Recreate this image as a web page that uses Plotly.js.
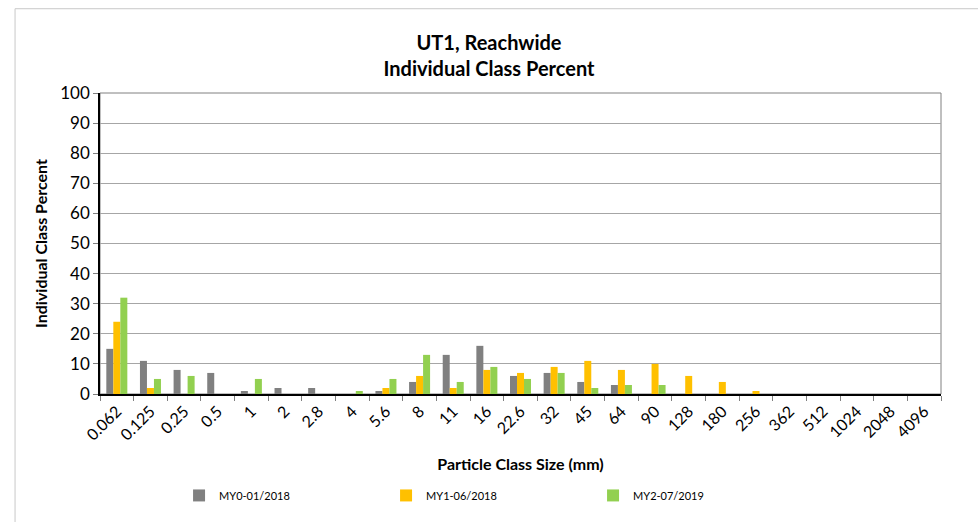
<!DOCTYPE html>
<html>
<head>
<meta charset="utf-8">
<script src="https://cdn.plot.ly/plotly-3.0.1.min.js"></script>
<style>html,body{margin:0;padding:0;background:#fff;}#chart{width:978px;height:522px;}</style>
</head>
<body>
<div id="chart"></div>
<script>
const categories = ["0.062","0.125","0.25","0.5","1","2","2.8","4","5.6","8","11","16","22.6","32","45","64","90","128","180","256","362","512","1024","2048","4096"];
const my0 = [15,11,8,7,1,2,2,0,1,4,13,16,6,7,4,3,0,0,0,0,0,0,0,0,0];
const my1 = [24,2,0,0,0,0,0,0,2,6,2,8,7,9,11,8,10,6,4,1,0,0,0,0,0];
const my2 = [32,5,6,0,5,0,0,1,5,13,4,9,5,7,2,3,3,0,0,0,0,0,0,0,0];
const seriesNames = ["MY0-01/2018","MY1-06/2018","MY2-07/2019"];
const colors = ["#808080","#FFC000","#92D050"];

const font = "Lato, 'Liberation Sans', sans-serif";
const traces = [my0, my1, my2].map((vals, i) => ({
  type: "bar",
  x: categories,
  y: vals,
  name: seriesNames[i],
  marker: {color: colors[i]},
  hoverinfo: "x+y+name"
}));

const layout = {
  width: 978, height: 522,
  margin: {l: 100, r: 37, t: 93, b: 126},
  paper_bgcolor: "#fff", plot_bgcolor: "#fff",
  font: {family: font, color: "#000"},
  title: {
    text: "<b>UT1, Reachwide<br>Individual Class Percent</b>",
    font: {size: 20, family: font, color: "#000"},
    x: 0.5, xanchor: "center", y: 0.905, yanchor: "middle"
  },
  barmode: "group",
  bargap: 0.375,
  bargroupgap: 0,
  xaxis: {
    type: "category",
    automargin: false,
    tickson: "boundaries",
    ticks: "outside", ticklen: 5, tickcolor: "#808080",
    tickangle: -45,
    tickfont: {size: 16, family: font},
    showline: true, linecolor: "#000", linewidth: 1.5,
    showgrid: false,
    title: {text: "<b>Particle Class Size (mm)</b>", font: {size: 16, family: font}, standoff: 16}
  },
  yaxis: {
    automargin: false,
    range: [0, 100],
    dtick: 10,
    ticks: "outside", ticklen: 5, tickcolor: "#808080",
    tickfont: {size: 17, family: font},
    showline: true, linecolor: "#000", linewidth: 1.5,
    showgrid: true, gridcolor: "#a6a6a6", gridwidth: 1,
    zeroline: false,
    title: {text: "<b>Individual Class Percent</b>", font: {size: 16, family: font}, standoff: 9}
  },
  legend: {
    orientation: "h",
    x: 0.094, xanchor: "left",
    y: -0.337, yanchor: "middle",
    font: {size: 11, family: font},
    itemwidth: 30,
    entrywidth: 162, entrywidthmode: "pixels",
    tracegroupgap: 0
  },
  shapes: [
    {type: "rect", xref: "paper", yref: "paper", x0: 0, x1: 1, y0: 0, y1: 1,
     line: {color: "#808080", width: 1}, layer: "below"},
    {type: "rect", xref: "paper", yref: "paper", x0: -0.101, x1: 1.2, y0: -0.5, y1: 1.28,
     line: {color: "#c8c8c8", width: 1}, layer: "below"}
  ]
};

Plotly.newPlot("chart", traces, layout, {displayModeBar: false, responsive: false});
</script>
</body>
</html>
